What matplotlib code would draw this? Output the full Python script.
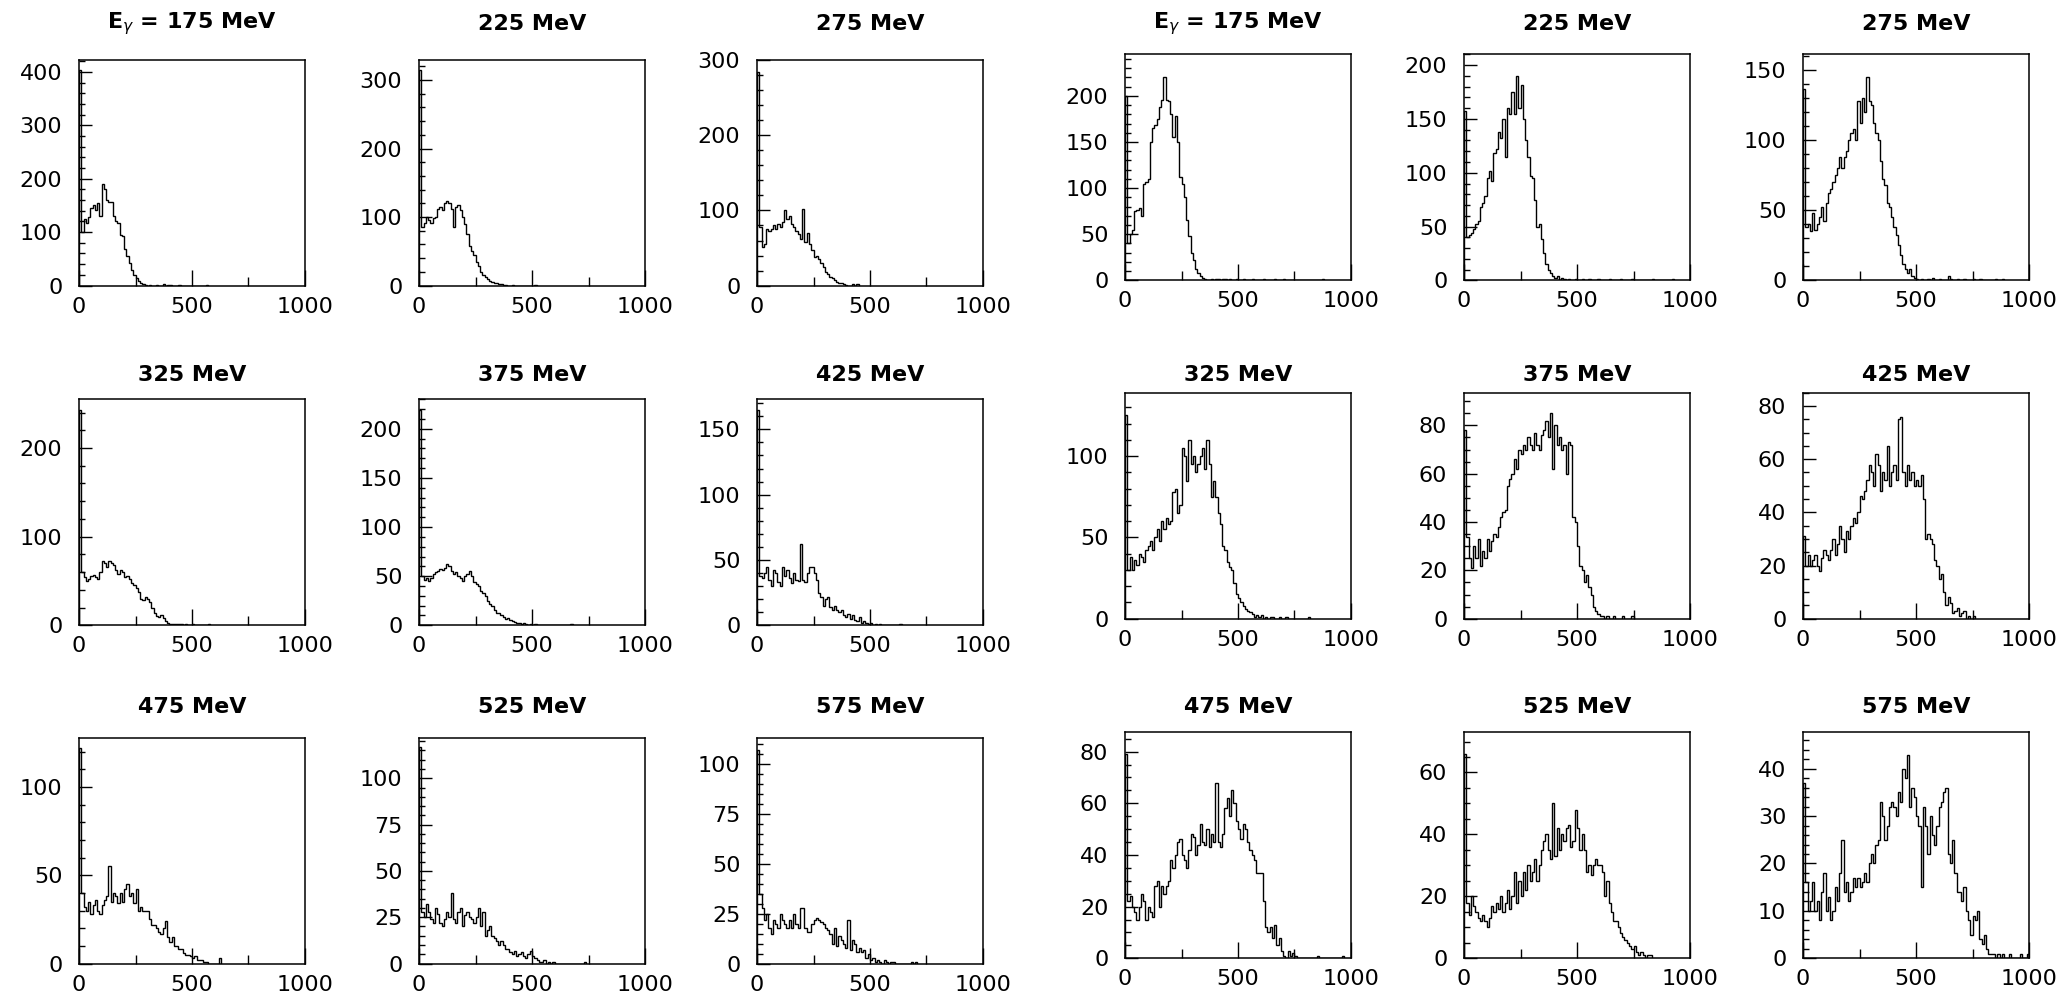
import numpy as np
import matplotlib.pyplot as plt
from matplotlib.ticker import MultipleLocator, FixedLocator

# photon energies of the panels (MeV), same for both blocks
energies = [175, 225, 275, 325, 375, 425, 475, 525, 575]
bin_width = 10  # MeV per bin, bins start at 0

# counts per bin, left block
left_175 = [403, 100, 125, 118, 128, 145, 150, 142, 155, 130, 190, 180, 160, 157, 157, 130, 120, 118, 95, 92,
            68, 55, 42, 30, 20, 14, 8, 5, 3, 1, 0, 1, 0, 0, 1, 0, 0, 2, 0, 1, 1, 0, 0, 0, 1, 0, 0, 0, 0, 0,
            0, 0, 0, 0, 0, 0, 1]
left_225 = [315, 85, 92, 100, 95, 92, 98, 100, 112, 115, 110, 120, 123, 120, 112, 85, 115, 118, 110, 100,
            90, 75, 58, 50, 45, 35, 28, 20, 15, 12, 9, 7, 5, 4, 3, 2, 2, 1, 1, 0, 0, 1, 0, 0, 0, 0, 0, 0, 0, 0,
            0, 1]
left_275 = [285, 78, 52, 55, 75, 72, 75, 80, 75, 82, 78, 85, 100, 88, 92, 82, 78, 72, 68, 62, 102, 58, 70,
            55, 48, 38, 40, 35, 30, 25, 18, 15, 12, 10, 7, 5, 4, 3, 2, 1, 0, 0, 2, 0, 2]
left_325 = [243, 60, 55, 50, 52, 56, 57, 55, 52, 60, 72, 70, 66, 72, 70, 68, 62, 58, 62, 60, 55, 56, 52, 48,
            45, 42, 38, 30, 28, 32, 30, 26, 20, 14, 10, 9, 12, 8, 5, 3, 2, 1, 2, 1, 1, 2, 0, 1, 0, 0, 1, 0,
            0, 0, 0, 0, 0, 1]
left_375 = [219, 50, 46, 48, 45, 48, 52, 54, 55, 57, 56, 58, 62, 60, 55, 52, 54, 50, 48, 45, 50, 52, 55, 50,
            44, 42, 40, 35, 33, 30, 25, 22, 20, 16, 13, 12, 10, 8, 6, 7, 5, 4, 3, 2, 2, 1, 2, 1, 0, 1, 0, 1,
            0, 0, 0, 0, 0, 0, 0, 0, 0, 0, 0, 0, 0, 0, 0, 1]
left_425 = [165, 38, 36, 40, 45, 35, 30, 42, 40, 33, 30, 45, 38, 42, 36, 32, 40, 35, 34, 62, 35, 33, 40, 45,
            45, 40, 35, 25, 22, 15, 20, 22, 14, 12, 15, 12, 10, 12, 8, 6, 9, 5, 8, 4, 3, 6, 2, 3, 2, 1, 2, 0,
            1, 0, 1, 0, 0, 0, 0, 0, 0, 0, 0, 1]
left_475 = [122, 40, 32, 30, 35, 28, 33, 36, 30, 28, 33, 36, 38, 55, 35, 40, 38, 34, 40, 35, 42, 45, 38, 40,
            34, 42, 30, 32, 30, 30, 30, 25, 22, 22, 20, 18, 17, 20, 24, 15, 12, 15, 10, 10, 8, 8, 6, 5, 5, 4,
            3, 4, 2, 2, 2, 1, 1, 0, 0, 0, 0, 0, 3]
left_525 = [117, 28, 25, 32, 28, 24, 22, 30, 27, 22, 20, 24, 28, 25, 38, 24, 22, 28, 30, 20, 26, 28, 25, 24,
            22, 25, 30, 20, 28, 15, 18, 20, 15, 14, 12, 10, 12, 10, 8, 8, 6, 5, 7, 4, 5, 6, 4, 3, 5, 7, 4, 3,
            2, 1, 1, 2, 0, 1, 0, 1, 0, 0, 0, 0, 0, 0, 0, 0, 0, 0, 0, 0, 0, 1]
left_575 = [107, 35, 28, 22, 25, 18, 15, 22, 20, 18, 25, 22, 20, 18, 22, 18, 25, 20, 18, 28, 28, 18, 16, 16,
            20, 22, 23, 22, 21, 20, 18, 17, 15, 10, 18, 9, 14, 12, 10, 8, 22, 7, 12, 10, 6, 8, 6, 7, 3, 5, 2,
            3, 1, 2, 1, 0, 2, 1, 0, 1, 1, 0, 0, 0, 0, 0, 0, 0, 1, 0, 1]

# counts per bin, right block
right_175 = [200, 40, 50, 55, 75, 76, 78, 70, 105, 107, 110, 150, 165, 168, 175, 188, 195, 220, 195, 194,
             180, 155, 178, 150, 112, 105, 90, 65, 48, 30, 22, 12, 8, 5, 3, 1, 0, 0, 2, 0, 1, 1, 0, 1, 1, 0,
             1, 0, 0, 1, 0, 0, 1, 0, 0, 0, 1, 0, 0, 0, 0, 1, 0, 0, 0, 0, 1, 0, 0, 0, 1, 0, 0, 0, 0, 0, 0, 0,
             0, 0, 0, 0, 0, 0, 0, 0, 0, 1]
right_225 = [157, 40, 42, 44, 48, 52, 55, 68, 72, 78, 95, 102, 92, 118, 122, 138, 132, 150, 115, 160, 155,
             175, 155, 190, 160, 182, 150, 130, 115, 97, 95, 75, 50, 52, 38, 25, 15, 10, 7, 4, 2, 4, 0, 2, 1,
             0, 1, 0, 0, 1, 0, 0, 1, 0, 0, 1, 0, 0, 0, 1, 0, 0, 0, 0, 1, 0, 0, 0, 0, 1, 0, 0, 0, 0, 1, 0, 0,
             0, 0, 0, 0, 0, 0, 1, 0, 0, 0, 0, 0, 0, 0, 0, 1]
right_275 = [136, 38, 40, 35, 48, 36, 40, 45, 52, 42, 55, 62, 65, 70, 75, 80, 88, 80, 88, 92, 100, 105, 108,
             100, 128, 112, 130, 120, 145, 128, 125, 112, 105, 100, 85, 72, 68, 55, 52, 45, 38, 32, 25, 18,
             12, 8, 5, 8, 3, 2, 1, 0, 1, 0, 0, 1, 0, 2, 0, 0, 1, 0, 0, 0, 3, 1, 0, 0, 1, 0, 0, 1, 0, 0, 0, 1,
             0, 0, 1, 0, 0, 0, 0, 0, 0, 1, 0, 0, 1]
right_325 = [125, 30, 38, 30, 36, 33, 40, 38, 35, 42, 45, 48, 42, 50, 55, 48, 60, 55, 62, 58, 60, 78, 80, 65,
             70, 105, 100, 85, 110, 95, 100, 90, 95, 100, 105, 92, 110, 95, 75, 85, 75, 65, 58, 45, 42, 35,
             32, 30, 22, 15, 13, 10, 8, 6, 5, 4, 3, 1, 2, 1, 2, 0, 1, 0, 1, 1, 0, 0, 1, 0, 0, 1, 0, 0, 0, 0,
             0, 0, 0, 0, 0, 1]
right_375 = [78, 34, 25, 21, 30, 25, 33, 22, 28, 25, 33, 28, 32, 35, 34, 38, 42, 44, 45, 55, 58, 60, 66, 62,
             70, 68, 72, 70, 75, 72, 70, 77, 72, 70, 76, 78, 82, 75, 85, 62, 80, 72, 75, 70, 72, 60, 73, 72,
             42, 40, 30, 22, 20, 15, 18, 13, 10, 5, 3, 2, 1, 1, 0, 1, 0, 0, 1, 0, 0, 0, 1, 0, 0, 0, 1]
right_425 = [31, 20, 24, 20, 22, 24, 20, 18, 23, 26, 24, 22, 26, 30, 24, 28, 35, 30, 25, 33, 30, 35, 38, 36,
             40, 46, 45, 48, 52, 58, 55, 50, 62, 58, 48, 55, 52, 65, 50, 55, 58, 52, 75, 76, 55, 50, 58, 52,
             55, 50, 52, 50, 54, 45, 30, 32, 30, 28, 22, 20, 15, 17, 10, 5, 8, 6, 2, 3, 4, 1, 2, 3, 0, 1, 0,
             1]
right_475 = [79, 22, 24, 20, 18, 15, 20, 25, 22, 15, 20, 18, 16, 28, 30, 20, 28, 25, 28, 30, 38, 35, 40, 45,
             46, 40, 38, 35, 42, 48, 47, 40, 44, 52, 45, 44, 50, 43, 48, 45, 68, 45, 43, 48, 58, 62, 55, 65,
             60, 53, 50, 46, 52, 50, 45, 42, 40, 38, 33, 33, 33, 22, 12, 10, 12, 8, 13, 5, 8, 3, 1, 0, 3, 1,
             2, 1, 0, 0, 0, 0, 0, 0, 0, 0, 0, 1, 0, 0, 0, 0, 0, 0, 0, 0, 0, 0, 1]
right_525 = [66, 18, 14, 20, 17, 15, 13, 12, 14, 12, 10, 13, 17, 15, 18, 16, 20, 15, 18, 22, 16, 20, 28, 18,
             25, 20, 28, 22, 30, 25, 28, 32, 25, 30, 35, 38, 40, 35, 32, 50, 33, 42, 35, 40, 38, 42, 43, 36,
             38, 48, 42, 35, 40, 35, 28, 30, 27, 30, 32, 30, 30, 28, 20, 25, 18, 15, 12, 12, 10, 8, 7, 6, 5,
             4, 3, 4, 2, 1, 2, 1, 0, 1, 1]
right_575 = [37, 16, 10, 12, 16, 10, 12, 8, 14, 18, 10, 13, 8, 10, 15, 12, 18, 25, 14, 16, 12, 14, 17, 15,
             17, 15, 16, 18, 16, 20, 22, 20, 24, 25, 33, 30, 25, 28, 32, 33, 32, 30, 35, 33, 40, 38, 43, 32,
             36, 34, 30, 28, 15, 32, 28, 22, 30, 26, 24, 28, 32, 33, 35, 36, 22, 20, 25, 18, 14, 14, 12, 15,
             10, 8, 5, 9, 8, 10, 4, 3, 5, 2, 1, 1, 1, 0, 1, 0, 1, 0, 0, 1, 0, 0, 0, 0, 1, 0, 0, 1]

left_counts = [left_175, left_225, left_275, left_325, left_375, left_425, left_475, left_525, left_575]
right_counts = [right_175, right_225, right_275, right_325, right_375, right_425, right_475, right_525,
                right_575]

# y axis ranges and label steps
left_ytop = [423, 330, 301, 255, 230, 173, 128, 122, 113]
left_ystep = [100, 100, 100, 100, 50, 50, 50, 25, 25]
right_ytop = [245, 210, 161, 139, 93.5, 85, 87.5, 73, 47.7]
right_ystep = [50, 50, 50, 50, 20, 20, 20, 20, 10]

titles = [('E$_\\gamma$ = %d MeV' if i == 0 else '%d MeV') % e for i, e in enumerate(energies)]

plt.rcParams['font.family'] = 'DejaVu Sans'

W, H = 2064, 996
fig = plt.figure(figsize=(W / 100, H / 100), dpi=100)

aw, ah = 226 / W, 226 / H
left_x = [79 / W, 419 / W, 757 / W]
right_x = [1125 / W, 1464 / W, 1803 / W]
left_y = [0.7133, 0.3722, 0.0326]
right_y = [0.7185, 0.3788, 0.0379]
title_y = [0.976, 0.6235, 0.290]


def draw(ax, counts, ytop, ystep):
    edges = np.arange(len(counts) + 1) * bin_width
    ax.stairs(counts, edges, color='black', lw=1.0)
    ax.set_xlim(0, 1000)
    ax.set_ylim(0, ytop)
    ax.xaxis.set_major_locator(FixedLocator([0, 500, 1000]))
    ax.xaxis.set_minor_locator(FixedLocator([250, 750]))
    ax.yaxis.set_major_locator(MultipleLocator(ystep))
    nsub = 4 if ystep == 20 else 5
    ax.yaxis.set_minor_locator(MultipleLocator(ystep / nsub))
    ax.tick_params(which='both', direction='in', top=False, right=False, width=1.0, labelsize=16)
    ax.tick_params(axis='y', which='major', length=9.5, pad=12)
    ax.tick_params(axis='y', which='minor', length=4.5)
    ax.tick_params(axis='x', which='major', length=11.5, pad=8)
    ax.tick_params(axis='x', which='minor', length=6.5)
    for s in ax.spines.values():
        s.set_linewidth(1.1)


for block, xs, ys, counts, ytops, ysteps in [
        ('left', left_x, left_y, left_counts, left_ytop, left_ystep),
        ('right', right_x, right_y, right_counts, right_ytop, right_ystep)]:
    for k in range(9):
        r, c = divmod(k, 3)
        ax = fig.add_axes([xs[c], ys[r], aw, ah])
        draw(ax, counts[k], ytops[k], ysteps[k])
        fig.text(xs[c] + aw / 2, title_y[r], titles[k], ha='center', va='center',
                 fontsize=16, fontweight='bold')

fig.savefig('out.png', dpi=100)
